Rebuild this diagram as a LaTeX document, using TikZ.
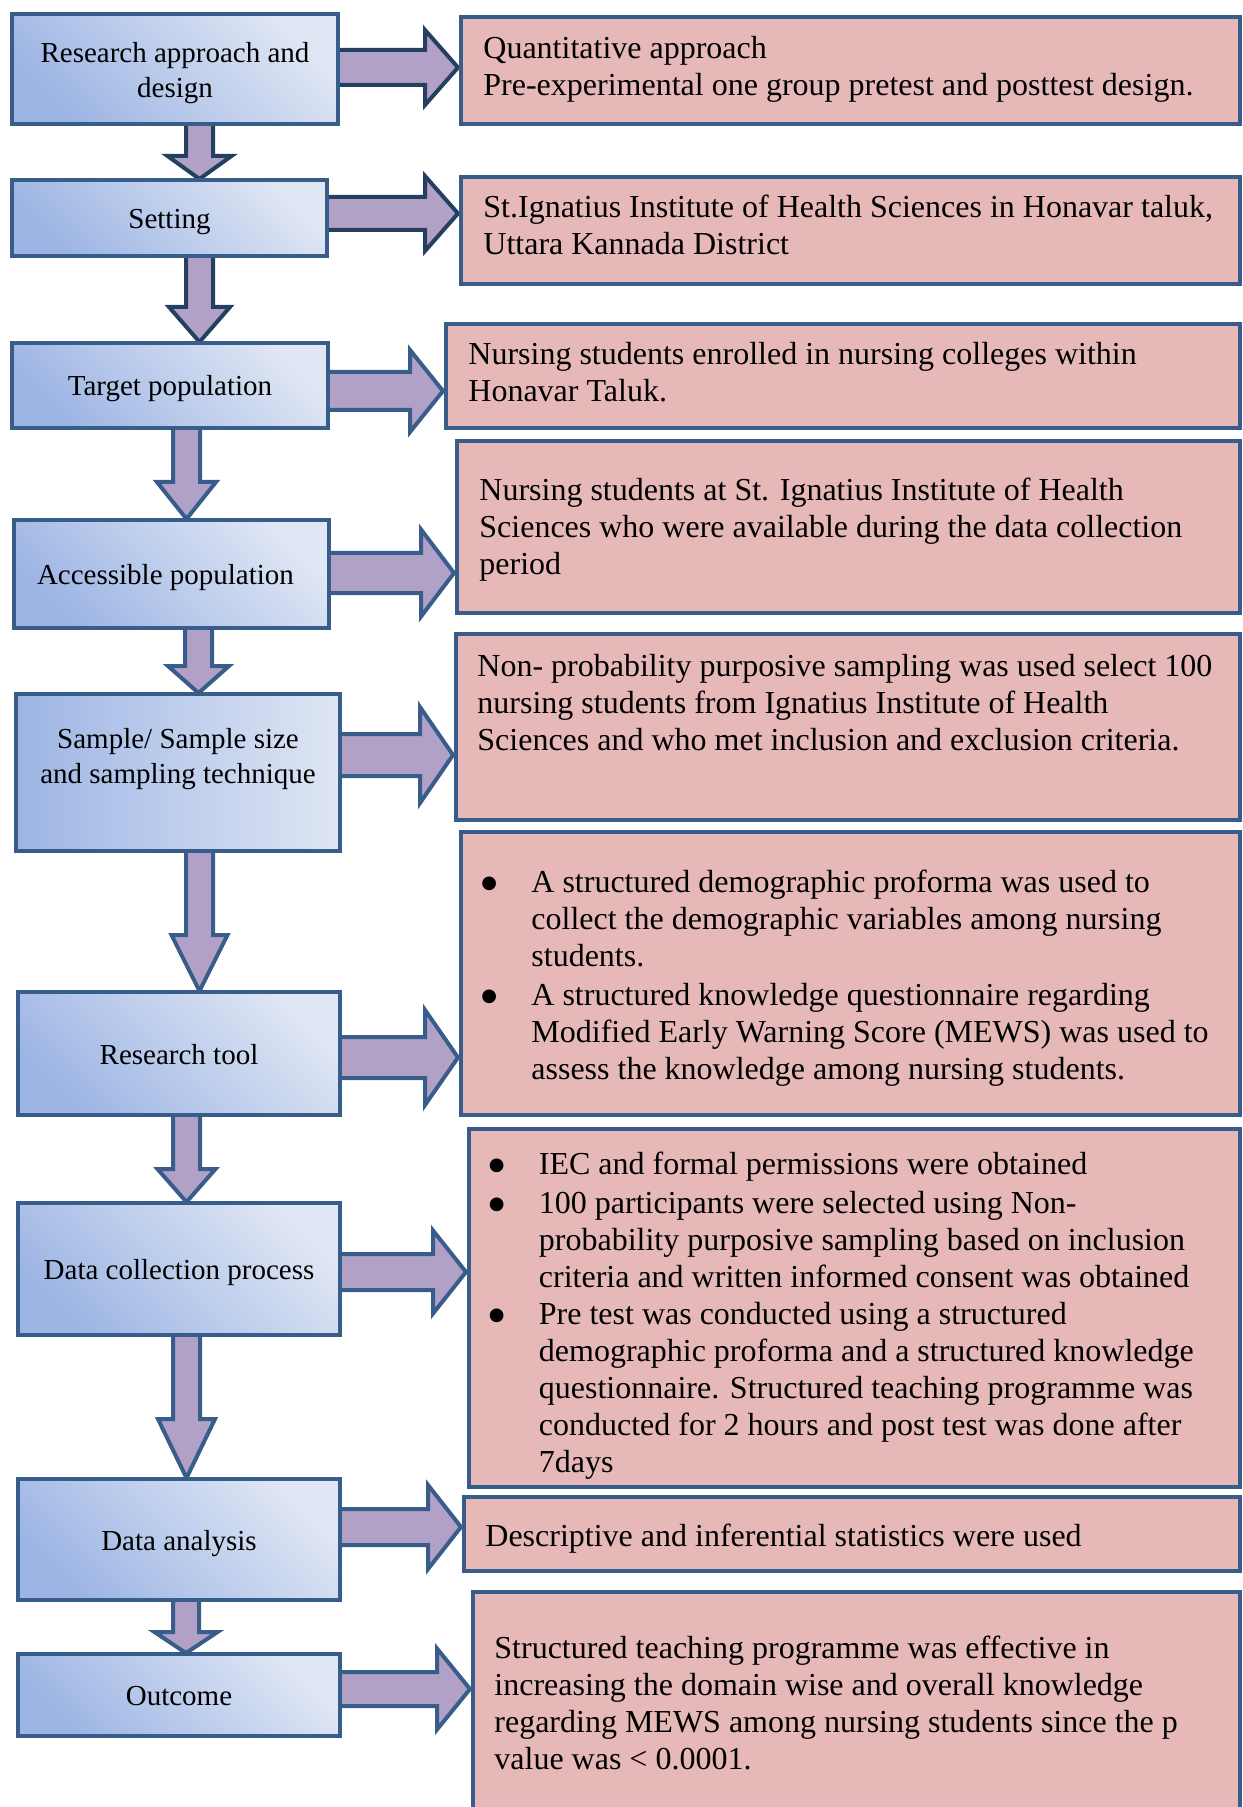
\documentclass[tikz,border=0pt]{standalone}
\usepackage{fontspec}
\setmainfont{Liberation Serif}
\newfontfamily\bulletfont{DejaVu Sans}
\usetikzlibrary{calc,backgrounds}
\definecolor{bdr}{HTML}{385D8A}
\definecolor{bdrdark}{HTML}{243F60}
\definecolor{arrfill}{HTML}{B2A1C7}
\definecolor{rosefill}{HTML}{E6B9B8}
\definecolor{bluedark}{HTML}{9DB5E4}
\definecolor{bluelight}{HTML}{DFE6F4}
\tikzset{
  lplain/.style={draw=bdr, line width=2pt, inner sep=0pt, align=center, font=\fontsize{14.5}{17.5}\selectfont},
  lbase/.style={lplain, execute at begin node={\rule{0pt}{14pt}}, execute at end node={\rule[-3.5pt]{0pt}{3.5pt}}},
  lbox/.style={lbase, top color=bluelight, bottom color=bluedark, shading angle=-45},
  lboxm/.style={lplain, top color=bluelight, bottom color=bluedark, shading angle=-45},
  lboxh/.style={lplain, left color=bluedark, right color=bluelight},
  rbox/.style={draw=bdr, line width=2pt, fill=rosefill, inner sep=0pt},
  rtext/.style={anchor=base west, inner sep=0pt, font=\fontsize{16}{18.5}\selectfont},
  blockarr/.style={draw=bdr, line width=2pt, fill=arrfill, line join=miter},
  blockarrdark/.style={blockarr, draw=bdrdark},
}
% right block arrow: style, from, to, y centre (px), shaft half (px), head half (px)
\newcommand\blockR[6]{%
  \draw[#1] let \p1=(#2.east), \p2=(#3.west) in
    ({\x1-4pt},{-(#4-#5)*0.5pt}) -- ({\x2-17pt},{-(#4-#5)*0.5pt}) --
    ({\x2-17pt},{-(#4-#6)*0.5pt}) -- ({\x2-0.5pt},{-#4*0.5pt}) --
    ({\x2-17pt},{-(#4+#6)*0.5pt}) -- ({\x2-17pt},{-(#4+#5)*0.5pt}) --
    ({\x1-4pt},{-(#4+#5)*0.5pt}) -- cycle;}
% down block arrow: style, from, to, x centre (px), shaft half, head half, head length (px)
\newcommand\blockD[7]{%
  \draw[#1] let \p1=(#2.south), \p2=(#3.north) in
    ({(#4-#5)*0.5pt},{\y1+4pt}) -- ({(#4-#5)*0.5pt},{\y2+#7*0.5pt}) --
    ({(#4-#6)*0.5pt},{\y2+#7*0.5pt}) -- ({#4*0.5pt},{\y2-0.5pt}) --
    ({(#4+#6)*0.5pt},{\y2+#7*0.5pt}) -- ({(#4+#5)*0.5pt},{\y2+#7*0.5pt}) --
    ({(#4+#5)*0.5pt},{\y1+4pt}) -- cycle;}
\newcommand\bul{\makebox[23pt][l]{\hspace*{-2pt}\raisebox{1.9pt}{\bulletfont\fontsize{9}{9}\selectfont ●}}}
\newcommand\bulind{\hspace*{23pt}}
\begin{document}
\begin{tikzpicture}[x=0.5pt,y=-0.5pt]
\useasboundingbox (0,0) rectangle (1242,1807);
\clip (0,0) rectangle (1242,1807);
% left column
\node[lboxm, minimum width=163pt, minimum height=55pt] (b1) at (175,69) {\rule{0pt}{14.6pt}Research approach and\\design\rule[-3.5pt]{0pt}{3.5pt}};
\node[lbox, minimum width=157.5pt, minimum height=38pt] (b2) at (169.5,218) {Setting};
\node[lbox, minimum width=158pt, minimum height=42.5pt] (b3) at (170,385.5) {Target population};
\node[lbox, minimum width=157.5pt, minimum height=54pt] (b4) at (171.5,574) {Accessible population\hspace*{6pt}};
\node[lboxh, minimum width=162pt, minimum height=78.5pt] (b5) at (178,772.5) {\rule{0pt}{14pt}Sample/ Sample size\\and sampling technique\rule[-21pt]{0pt}{21pt}};
\node[lbox, minimum width=161pt, minimum height=61.5pt] (b6) at (179,1053.5) {Research tool};
\node[lbox, minimum width=161pt, minimum height=66pt] (b7) at (179,1269) {Data collection process};
\node[lbox, minimum width=161pt, minimum height=60.5pt] (b8) at (179,1539.5) {Data analysis};
\node[lbox, minimum width=161pt, minimum height=41pt] (b9) at (179,1695) {Outcome};
% right column
\node[rbox, minimum width=389.5pt, minimum height=53.5pt] (r1) at (850.5,70.5) {};
\node[rbox, minimum width=389.5pt, minimum height=53.5pt] (r2) at (850.5,230.5) {};
\node[rbox, minimum width=397pt, minimum height=52pt] (r3) at (843,376) {};
\node[rbox, minimum width=391.5pt, minimum height=86pt] (r4) at (848.5,527) {};
\node[rbox, minimum width=392pt, minimum height=93pt] (r5) at (848,727) {};
\node[rbox, minimum width=389.5pt, minimum height=141.5pt] (r6) at (850.5,973.5) {};
\node[rbox, minimum width=385.5pt, minimum height=179pt] (r7) at (854.5,1308) {};
\node[rbox, minimum width=388pt, minimum height=37pt] (r8) at (852,1534) {};
\node[rbox, minimum width=383.5pt, minimum height=124pt] (r9) at (856.5,1716) {};
% texts
\node[rtext] (t1) at (483,58.5) {\parbox[t]{370pt}{Quantitative approach\\Pre-experimental one group pretest and posttest design.}};
\node[rtext] (t2) at (483,218) {\parbox[t]{370pt}{St.Ignatius Institute of Health Sciences in Honavar taluk,\\Uttara Kannada District}};
\node[rtext] (t3) at (468,365) {\parbox[t]{370pt}{Nursing students enrolled in nursing colleges within\\Honavar Taluk.}};
\node[rtext] (t4) at (479,501) {\parbox[t]{370pt}{Nursing students at St. Ignatius Institute of Health\\Sciences who were available during the data collection\\period}};
\node[rtext] (t5) at (477,676) {\parbox[t]{375pt}{Non- probability purposive sampling was used select 100\\nursing students from Ignatius Institute of Health\\Sciences and who met inclusion and exclusion criteria.}};
\node[rtext] (t6) at (485,892) {\parbox[t]{370pt}{\bul A structured demographic proforma was used to\\\bulind collect the demographic variables among nursing\\\bulind students.\\[1pt]\bul A structured knowledge questionnaire regarding\\\bulind Modified Early Warning Score (MEWS) was used to\\\bulind assess the knowledge among nursing students.}};
\node[rtext] (t7) at (492.5,1174) {\parbox[t]{370pt}{\bul IEC and formal permissions were obtained\\[1pt]\bul 100 participants were selected using Non-\\\bulind probability purposive sampling based on inclusion\\\bulind criteria and written informed consent was obtained\\\bul Pre test was conducted using a structured\\\bulind demographic proforma and a structured knowledge\\\bulind questionnaire. Structured teaching programme was\\\bulind conducted for 2 hours and post test was done after\\\bulind 7days}};
\node[rtext] (t8) at (485,1546) {Descriptive and inferential statistics were used};
\node[rtext] (t9) at (494,1658) {\parbox[t]{370pt}{Structured teaching programme was effective in\\increasing the domain wise and overall knowledge\\regarding MEWS among nursing students since the p\\value was < 0.0001.}};
% arrows
\begin{pgfonlayer}{background}
\blockR{blockarrdark}{b1}{r1}{67.5}{17.5}{37.5}
\blockR{blockarrdark}{b2}{r2}{213.5}{16.5}{37.5}
\blockR{blockarr}{b3}{r3}{391}{19}{41}
\blockR{blockarr}{b4}{r4}{573}{20}{43.5}
\blockR{blockarr}{b5}{r5}{755}{21}{48}
\blockR{blockarr}{b6}{r6}{1057.5}{20.5}{47.5}
\blockR{blockarr}{b7}{r7}{1272}{18}{41.5}
\blockR{blockarr}{b8}{r8}{1527}{18}{42}
\blockR{blockarr}{b9}{r9}{1689}{17}{40.5}
\blockD{blockarrdark}{b1}{b2}{199.5}{13.5}{32}{22}
\blockD{blockarrdark}{b2}{b3}{199.5}{13.5}{30.5}{34}
\blockD{blockarr}{b3}{b4}{186.5}{13.5}{29.5}{36}
\blockD{blockarr}{b4}{b5}{198.5}{13.5}{30.5}{26}
\blockD{blockarr}{b5}{b6}{199.5}{13.5}{28}{55}
\blockD{blockarr}{b6}{b7}{186.5}{13.5}{29}{32}
\blockD{blockarr}{b7}{b8}{186.5}{13.5}{28.5}{58}
\blockD{blockarr}{b8}{b9}{186}{13}{31.5}{20}
\end{pgfonlayer}
\end{tikzpicture}
\end{document}
